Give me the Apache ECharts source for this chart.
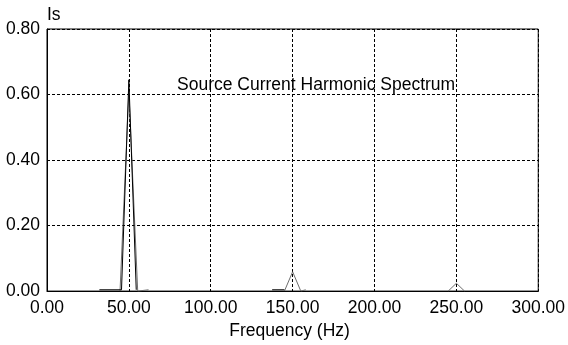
<!DOCTYPE html>
<html>
<head>
<meta charset="utf-8">
<script src="https://cdn.jsdelivr.net/npm/echarts@6/dist/echarts.min.js"></script>
<style>
  html, body { margin: 0; padding: 0; background: #fff; }
  #chart { width: 568px; height: 345px; }
</style>
</head>
<body>
<div id="chart"></div>
<script>
// Harmonic spectrum of the source current (amplitude vs. frequency)
const chartTitle = 'Source Current Harmonic Spectrum';
const xAxisName = 'Frequency (Hz)';
const yAxisName = 'Is';

// Axis ranges and tick spacing
const xMin = 0, xMax = 300, xStep = 50;
const yMin = 0, yMax = 0.8, yStep = 0.2;

// Dark trace: fundamental spike plus its low-level shoulders (null breaks the line)
const darkFreq = [32, 45.5, 50, 54.5, null, 137.5, 145];
const darkAmp  = [0.004, 0.004, 0.645, 0.004, null, 0.004, 0.004];

// Light trace: fundamental, 3rd and 5th harmonic lobes
const lightFreq = [44.6, 50, 55.4, 56, 62, null, 145, 150, 155, 158, null, 245, 250, 255];
const lightAmp  = [0, 0.61, 0, 0.004, 0.004, null, 0, 0.059, 0, 0.004, null, 0, 0.024, 0];

function pairs(xs, ys) {
  return xs.map((x, i) => (x === null ? [null, null] : [x, ys[i]]));
}

const font = "'Liberation Sans', Arial, sans-serif";
const fs = 17.5;
const chart = echarts.init(document.getElementById('chart'), null, { renderer: 'canvas' });

chart.setOption({
  animation: false,
  backgroundColor: '#ffffff',
  title: {
    text: chartTitle,
    left: 177,
    top: 76,
    padding: 0,
    textStyle: { fontFamily: font, fontSize: fs, fontWeight: 'normal', color: '#000' }
  },
  grid: {
    left: 47, right: 28, top: 29, bottom: 53,
    show: true, borderColor: '#000', borderWidth: 1, backgroundColor: 'transparent'
  },
  xAxis: {
    type: 'value',
    min: xMin, max: xMax, interval: xStep,
    name: xAxisName,
    nameLocation: 'middle',
    nameGap: 29,
    nameTextStyle: { fontFamily: font, fontSize: fs, color: '#000', padding: [0, 6, 0, 0] },
    axisLine: { show: true, lineStyle: { color: '#000', width: 1 } },
    axisTick: { show: false },
    axisLabel: {
      margin: 8, fontFamily: font, fontSize: fs, color: '#000',
      formatter: v => v.toFixed(2)
    },
    splitLine: { show: true, lineStyle: { color: '#000', width: 1, type: [3, 2] } }
  },
  yAxis: {
    type: 'value',
    min: yMin, max: yMax, interval: yStep,
    name: yAxisName,
    nameLocation: 'end',
    nameGap: 5,
    nameTextStyle: { fontFamily: font, fontSize: fs, color: '#000', align: 'left' },
    axisLine: { show: true, lineStyle: { color: '#000', width: 1 } },
    axisTick: { show: false },
    axisLabel: {
      margin: 7, fontFamily: font, fontSize: fs, color: '#000',
      formatter: v => v.toFixed(2)
    },
    splitLine: { show: true, lineStyle: { color: '#000', width: 1, type: [3, 2] } }
  },
  series: [
    {
      type: 'line',
      data: pairs(lightFreq, lightAmp),
      showSymbol: false,
      connectNulls: false,
      lineStyle: { color: '#6e6e6e', width: 1 },
      z: 3
    },
    {
      type: 'line',
      data: pairs(darkFreq, darkAmp),
      showSymbol: false,
      connectNulls: false,
      lineStyle: { color: '#000', width: 1 },
      z: 4
    }
  ]
});
</script>
</body>
</html>
